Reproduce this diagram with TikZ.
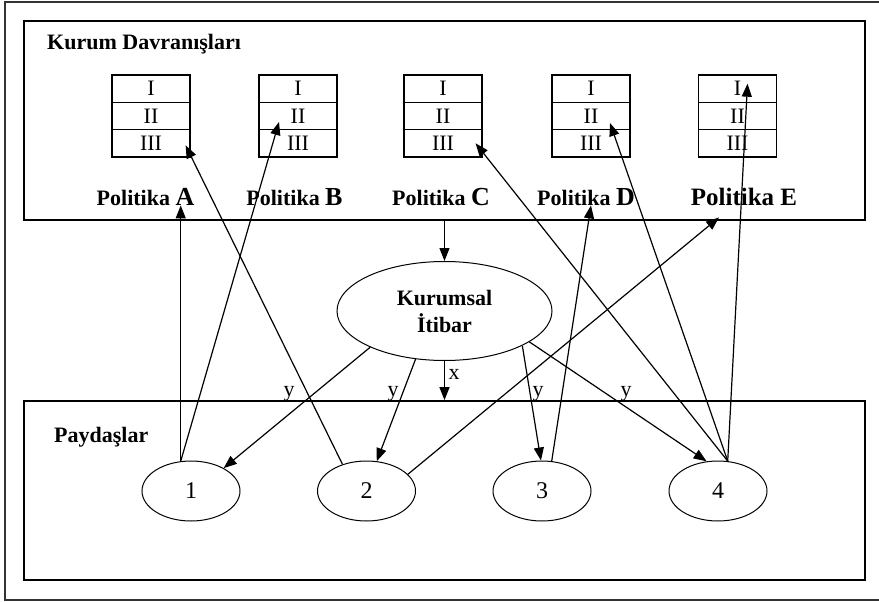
\documentclass[tikz,border=0pt]{standalone}
\usepackage{fontspec}
\setmainfont{Liberation Serif}
\usetikzlibrary{calc}
\usetikzlibrary{arrows.meta}
\usetikzlibrary{shapes.geometric}
\newcommand{\boyut}[1]{\fontsize{#1}{#1}\selectfont}
\tikzstyle{kutu}=[draw,line width=1.8pt,minimum width=841pt,inner sep=0pt]
\tikzstyle{satir}=[draw,line width=1.2pt,minimum width=78pt,minimum height=27.3pt,inner sep=0pt,font=\boyut{22}]
\tikzstyle{politika}=[inner sep=0pt,anchor=base,font=\bfseries\boyut{22}]
\tikzstyle{baslik}=[inner sep=0pt,anchor=base west,font=\bfseries\boyut{22}]
\tikzstyle{paydas}=[draw,ellipse,line width=1pt,minimum width=98pt,minimum height=60pt,inner sep=0pt,font=\boyut{24}]
\tikzstyle{itibar}=[draw,ellipse,line width=1pt,minimum width=215pt,minimum height=99pt,inner sep=0pt,align=center,font=\bfseries\fontsize{22}{27}\selectfont]
\tikzstyle{etiket}=[inner sep=0pt,anchor=base,font=\boyut{22}]
\tikzstyle{ok}=[-{Triangle[length=13pt,width=10pt]},line width=1.2pt]
\newcommand{\tablo}[2]{% Syntax: {name}{x of centre}, rows are name1, name2, name3
	\node[satir] (#11) at (#2,88.7) {I};
	\node[satir] (#12) at (#2,116) {II};
	\node[satir] (#13) at (#2,143.3) {III};
}

\begin{document}
\begin{tikzpicture}[x=1pt,y=-1pt]
	\useasboundingbox (0,0) rectangle (879,602);
	\draw[line width=1.3pt,black!80] (879,2) -- (5,2) -- (5,600) -- (879,600);
	\node[kutu,minimum height=199pt] (kurum) at (444.5,120.5) {};
	\node[kutu,minimum height=179pt] (pay) at (444.5,490.5) {};
	\node[baslik] (kurumbaslik) at (47,50) {Kurum Davranışları};
	\node[baslik] (paybaslik) at (54,442) {Paydaşlar};
	\tablo{A}{151}
	\tablo{B}{298}
	\tablo{C}{443}
	\tablo{D}{591}
	\tablo{E}{737.5}
	\node[politika] (polA) at (145.5,205) {Politika {\boyut{26}A}};
	\node[politika] (polB) at (294.5,205) {Politika {\boyut{26}B}};
	\node[politika] (polC) at (441,205) {Politika {\boyut{26}C}};
	\node[politika] (polD) at (586,205) {Politika {\boyut{26}D}};
	\node[politika,font=\bfseries\boyut{25}] (polE) at (744,205) {Politika E};
	\node[itibar] (kI) at (444.5,311) {Kurumsal\\İtibar};
	\node[paydas] (p1) at (191,491) {1};
	\node[paydas] (p2) at (366.5,491) {2};
	\node[paydas] (p3) at (542,491) {3};
	\node[paydas] (p4) at (718,491) {4};
	% itibar
	\draw[ok] (kI.north |- kurum.south) -- (kI.north);
	\draw[ok] (kI.south) -- (kI.south |- pay.north);
	\node[etiket] (x) at (454,379) {x};
	\draw[ok] (kI.206) -- (p1.35);
	\draw[ok] (kI.239) -- (p2.71);
	\draw[ok] (kI.336) -- (p3.92);
	\draw[ok] (kI.340) -- (p4.111);
	\node[etiket] (ya) at (289,396) {y};
	\node[etiket] (yb) at (393,396) {y};
	\node[etiket] (yc) at (538,396) {y};
	\node[etiket] (yd) at (626,396) {y};
	% paydaslar
	\draw[ok] (p1.109) -- (p1.109 |- polA.south);
	\draw[ok] (p1.109) -- ([shift={(-19pt,-6pt)}]B2.center);
	\draw[ok] (p2.132) -- ([shift={(-5pt,-2pt)}]A3.east);
	\draw[ok] (p2.22) -- ([shift={(-25pt,-12pt)}]polE.south);
	\draw[ok] (p3.72) -- ([xshift=5pt]polD.south);
	\draw[ok] (p4.72) -- ([xshift=-7pt]C3.east);
	\draw[ok] (p4.72) -- ([shift={(19pt,-7pt)}]D2.center);
	\draw[ok] (p4.72) -- ([shift={(10pt,5pt)}]E1.center);
\end{tikzpicture}
\end{document}
